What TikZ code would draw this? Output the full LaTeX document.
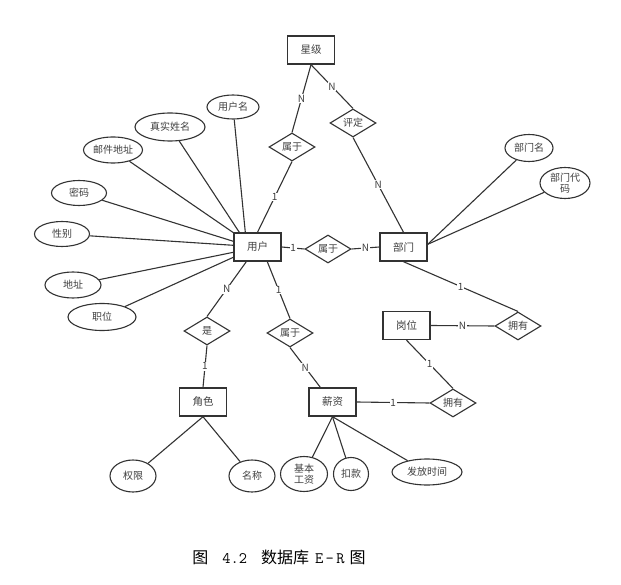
\documentclass[tikz,border=0pt]{standalone}
\usepackage{fontspec}
\setmainfont{Noto Sans CJK SC}
\usetikzlibrary{shapes.geometric,calc}
\definecolor{ln}{HTML}{333333}
\definecolor{tx}{HTML}{404040}
\tikzset{
  ent/.style={draw=ln, line width=1.4pt, minimum width=47pt, minimum height=28pt, inner sep=0pt,
    font=\fontsize{10.5}{12}\selectfont, text=tx},
  rel/.style={draw=ln, line width=1.1pt, diamond, aspect=1.7, minimum width=46pt, minimum height=28pt,
    inner sep=0pt, font=\fontsize{10}{12}\selectfont, text=tx},
  attr/.style={draw=ln, line width=1.1pt, ellipse, inner sep=0pt, align=center,
    font=\fontsize{10}{11}\selectfont, text=tx},
  conn/.style={draw=ln, line width=1.1pt},
  card/.style={fill=white, inner sep=0.8pt, font=\fontsize{10}{11}\selectfont, text=tx},
}
\begin{document}
\begin{tikzpicture}[x=1pt,y=-1pt]
\useasboundingbox[fill=white] (0,0) rectangle (621,585);

% entities
\node[ent] (xj) at (311,50) {星级};
\node[ent] (u)  at (257.5,247) {用户};
\node[ent] (bm) at (403.5,247) {部门};
\node[ent] (gw) at (406.5,325.5) {岗位};
\node[ent] (js) at (203,402) {角色};
\node[ent] (xz) at (332.5,402) {薪资};

% relationships
\node[rel] (sy1) at (292,147) {属于};
\node[rel] (pd)  at (353,123) {评定};
\node[rel] (sy2) at (328,249) {属于};
\node[rel] (shi) at (207,331) {是};
\node[rel] (sy3) at (290,333) {属于};
\node[rel] (yy1) at (518,326) {拥有};
\node[rel] (yy2) at (453,403) {拥有};

% attributes
\node[attr, minimum width=52pt, minimum height=24pt] (yhm) at (233,107) {用户名};
\node[attr, minimum width=70pt, minimum height=28pt] (zsxm) at (170,127) {真实姓名};
\node[attr, minimum width=59pt, minimum height=26pt] (yjdz) at (113,150) {邮件地址};
\node[attr, minimum width=55pt, minimum height=25pt] (mm) at (79,193) {密码};
\node[attr, minimum width=55pt, minimum height=25pt] (xb) at (62,234) {性别};
\node[attr, minimum width=56pt, minimum height=26pt] (dz) at (73,285) {地址};
\node[attr, minimum width=68pt, minimum height=27pt] (zw) at (102,317) {职位};
\node[attr, minimum width=48pt, minimum height=27pt] (bmm) at (529,148) {部门名};
\node[attr, minimum width=50pt, minimum height=31pt] (bmdm) at (565,183) {部门代\\码};
\node[attr, minimum width=46pt, minimum height=32pt] (qx) at (133,476) {权限};
\node[attr, minimum width=46pt, minimum height=32pt] (mc) at (252,476) {名称};
\node[attr, minimum width=47pt, minimum height=35pt] (jbgz) at (304,474) {基本\\工资};
\node[attr, minimum width=35pt, minimum height=33pt] (kk) at (351,474) {扣款};
\node[attr, minimum width=70pt, minimum height=26pt] (ffsj) at (427,472) {发放时间};

% user attribute connectors
\draw[conn] (yhm) -- ($(u.north west)+(12,0)$);
\draw[conn] (zsxm) -- ($(u.north west)+(6,0)$);
\draw[conn] (yjdz) -- ($(u.north west)+(1,1)$);
\draw[conn] (mm) -- ($(u.north west)+(0,9)$);
\draw[conn] (xb) -- ($(u.north west)+(0,13)$);
\draw[conn] (dz) -- ($(u.north west)+(0,20)$);
\draw[conn] (zw) -- ($(u.north west)+(0,25)$);

% department attributes
\draw[conn] (bmm) -- ($(bm.north east)+(0,12)$);
\draw[conn] (bmdm) -- ($(bm.north east)+(0,12)$);

% role / salary attributes
\draw[conn] (js.south) -- (qx);
\draw[conn] (js.south) -- (mc);
\draw[conn] (xz.south) -- (jbgz);
\draw[conn] (xz.south) -- (kk);
\draw[conn] (xz.south) -- (ffsj);

% relationship connectors with cardinalities
\draw[conn] (xj.south) -- node[card] {N} (sy1.north);
\draw[conn] (sy1.south) -- node[card] {1} (u.north);
\draw[conn] (xj.south) -- node[card] {N} (pd.north);
\draw[conn] (pd.south) -- node[card] {N} (bm.north);
\draw[conn] (u.east) -- node[card] {1} (sy2.west);
\draw[conn] (sy2.east) -- node[card] {N} (bm.west);
\draw[conn] (bm.south) -- node[card] {1} (yy1.north);
\draw[conn] (gw.east) -- node[card] {N} (yy1.west);
\draw[conn] (gw.south) -- node[card] {1} (yy2.north);
\draw[conn] (xz.east) -- node[card] {1} (yy2.west);
\draw[conn] ($(u.south west)+(13,0)$) -- node[card] {N} (shi.north);
\draw[conn] (shi.south) -- node[card] {1} (js.north);
\draw[conn] ($(u.south west)+(34,0)$) -- node[card] {1} (sy3.north);
\draw[conn] (sy3.south) -- node[card] {N} ($(xz.north west)+(12,0)$);

% caption
\node[font=\fontsize{16}{18}\selectfont, text=black, inner sep=0pt] (cap) at (279,557)
  {图\hspace{14pt}{\ttfamily 4.2}\hspace{14pt}数据库\hspace{6pt}{\ttfamily E\hspace{2.5pt}-\hspace{2.5pt}R}\hspace{5pt}图};
\end{tikzpicture}
\end{document}
